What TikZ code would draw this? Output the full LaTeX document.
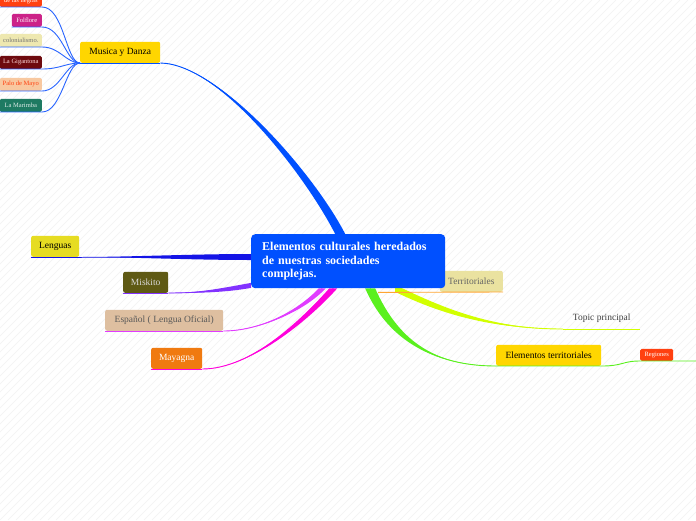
\documentclass[tikz,border=0pt]{standalone}
\usepackage{fontspec}
\setmainfont{Liberation Serif}
\usepackage{tikz}
\usetikzlibrary{calc,backgrounds,positioning}

\definecolor{rootblue}{RGB}{0,80,255}
\definecolor{gold}{RGB}{255,214,0}
\definecolor{lenyellow}{RGB}{230,220,34}
\definecolor{olive}{RGB}{95,90,20}
\definecolor{tan}{RGB}{222,191,160}
\definecolor{mayorange}{RGB}{240,122,16}
\definecolor{khaki}{RGB}{234,226,160}
\definecolor{redorange}{RGB}{255,64,16}
\definecolor{folpink}{RGB}{204,34,136}
\definecolor{palekhaki}{RGB}{238,232,176}
\definecolor{darkred}{RGB}{110,10,14}
\definecolor{peach}{RGB}{248,200,160}
\definecolor{teal}{RGB}{30,122,98}
\definecolor{mblue}{RGB}{0,80,255}
\definecolor{childblue}{RGB}{40,100,255}
\definecolor{lenblue}{RGB}{20,20,230}
\definecolor{miskpurple}{RGB}{130,50,255}
\definecolor{esppink}{RGB}{225,60,255}
\definecolor{maymag}{RGB}{255,0,220}
\definecolor{topyg}{RGB}{210,255,0}
\definecolor{elegreen}{RGB}{90,240,30}
\definecolor{terrorange}{RGB}{255,165,50}

\tikzset{
  TN/.style={rounded corners=2pt, inner xsep=5pt, inner ysep=0pt,
             minimum height=21pt, font=\fontsize{9.5}{11}\selectfont},
  SN/.style={rounded corners=1.5pt, inner xsep=2.5pt, inner ysep=0pt,
             minimum height=13pt, font=\fontsize{6.5}{7.5}\selectfont},
  UL/.style={line width=0.9pt},
  stripe/.style={black!5, line width=0.5pt}
}

% tapered branch: colour, from, ctrl 1, ctrl 2, to, half width
\newcommand{\branch}[6]{%
  \fill[#1] ($(#2)+#6$) .. controls ($(#3)+#6$) and (#4) .. (#5)
    .. controls (#4) and ($(#3)-#6$) .. ($(#2)-#6$) -- cycle;
  \draw[#1, line width=0.9pt] (#2) .. controls (#3) and (#4) .. (#5);}

\begin{document}
\begin{tikzpicture}[x=1pt, y=-1pt]
\useasboundingbox (0,0) rectangle (696,520);

% Background
\begin{scope}[on background layer]
  \fill[white] (0,0) rectangle (696,520);
  \clip (0,0) rectangle (696,520);
  \foreach \i in {-520,-512,...,696} \draw[stripe] (\i,520) -- ++(520,-520);
\end{scope}

% Central topic
\node[fill=rootblue, rounded corners=4pt, text=white, align=left,
      font=\fontsize{12}{13.5}\selectfont\bfseries, text width=172pt,
      inner xsep=11pt, minimum height=54pt, anchor=north west]
      (root) at (251,234)
      {Elementos culturales heredados\\de nuestras sociedades\\complejas.};

\coordinate (rMus) at ($(root.north)+(-8,0)$);
\coordinate (rLen) at ($(root.north west)+(0,23)$);
\coordinate (rMis) at ($(root.south west)+(0,-3)$);
\coordinate (rEsp) at ($(root.south)+(-26,0)$);
\coordinate (rMay) at ($(root.south)+(-15,0)$);
\coordinate (rEle) at ($(root.south)+(22,0)$);
\coordinate (rTop) at ($(root.south)+(47,0)$);
\coordinate (rTer) at ($(root.south)+(30,4)$);

% Main topics
\node[TN, fill=gold, minimum width=80pt, anchor=south west] (musica) at (80,63) {Musica y Danza};
\node[TN, fill=lenyellow, minimum width=48pt, anchor=south west] (lenguas) at (31,257) {Lenguas};
\node[TN, fill=olive, text=black!15, minimum width=45pt, anchor=south west] (miskito) at (123,293) {Miskito};
\node[TN, fill=tan, text=black!65, minimum width=118pt, anchor=south west] (espanol) at (105,331) {Español ( Lengua Oficial)};
\node[TN, fill=mayorange, text=white, minimum width=51pt, anchor=south west] (mayagna) at (151,369) {Mayagna};
\node[TN, fill=gold, minimum width=105pt, anchor=south west] (eleterr) at (496,366) {Elementos territoriales};
\node[TN, text=black!75, minimum width=77pt, anchor=south west] (topic) at (563,329) {Topic principal};
\node[SN, fill=redorange, text=white, minimum width=33pt, minimum height=12pt, anchor=south west] (regiones) at (640,361) {Regiones};
\coordinate (regEnd) at (696,361);

% Musica y Danza -- subtopics
\node[SN, fill=redorange, text=white, minimum width=42pt, minimum height=12pt, anchor=south east] (negras) at (42,7) {de las negras};
\node[SN, fill=folpink, text=white, minimum width=30pt, anchor=south east] (folflore) at (42,27) {Folflore};
\node[SN, fill=palekhaki, text=black!55, minimum width=42pt, anchor=south east] (colon) at (42,47) {colonialismo.};
\node[SN, fill=darkred, text=red!15, minimum width=42pt, anchor=south east] (giganto) at (42,69) {La Gigantona};
\node[SN, fill=peach, text=redorange, minimum width=42pt, anchor=south east] (palo) at (42,91) {Palo de Mayo};
\node[SN, fill=teal, text=white!85!teal, minimum width=42pt, anchor=south east] (marimba) at (42,112) {La Marimba};

% -- Branches from the central topic --
\begin{scope}[on background layer]
  \node[TN, fill=khaki, text=black!60, minimum width=63pt, anchor=south east] (territ) at (503,292) {Territoriales};
  \branch{mblue}{rMus}{310,175}{220,64}{musica.south east}{(5,0)}
  \branch{lenblue}{rLen}{190,257}{130,257}{lenguas.south east}{(0,3)}
  \branch{miskpurple}{rMis}{225,290}{200,293}{miskito.south east}{(0,2.5)}
  \branch{esppink}{rEsp}{300,312}{258,331}{espanol.south east}{(3.5,0)}
  \branch{maymag}{rMay}{305,320}{250,369}{mayagna.south east}{(4,0)}
  \branch{topyg}{rTop}{440,310}{490,329}{topic.south west}{(0,3.5)}
  \branch{elegreen}{rEle}{395,345}{440,366}{eleterr.south west}{(5,0)}
\end{scope}

% -- Underlines --
\draw[mblue, UL] (musica.south west) -- (musica.south east);
\draw[lenblue, UL] (lenguas.south west) -- (lenguas.south east);
\draw[miskpurple, UL] (miskito.south west) -- (miskito.south east);
\draw[esppink, UL] (espanol.south west) -- (espanol.south east);
\draw[maymag, UL] (mayagna.south west) -- (mayagna.south east);
\draw[topyg, UL] (topic.south west) -- (topic.south east);
\draw[terrorange, UL] (rTer) -- (territ.south east);
\draw[elegreen, UL] (eleterr.south west) -- (eleterr.south east)
    .. controls +(22,0) and +(-18,0) .. (regiones.south west)
    -- (regiones.south east) -- (regEnd);

% -- Musica y Danza to its subtopics --
\draw[childblue, UL] (negras.south west) -- (negras.south east)
    .. controls +(22,0) and +(-14,0) .. (musica.south west);
\draw[childblue, UL] (folflore.south west) -- (folflore.south east)
    .. controls +(20,0) and +(-14,0) .. (musica.south west);
\draw[childblue, UL] (colon.south west) -- (colon.south east)
    .. controls +(18,0) and +(-14,0) .. (musica.south west);
\draw[childblue, UL] (giganto.south west) -- (giganto.south east)
    .. controls +(18,0) and +(-14,0) .. (musica.south west);
\draw[childblue, UL] (palo.south west) -- (palo.south east)
    .. controls +(18,0) and +(-14,0) .. (musica.south west);
\draw[childblue, UL] (marimba.south west) -- (marimba.south east)
    .. controls +(20,0) and +(-14,0) .. (musica.south west);

\end{tikzpicture}
\end{document}
